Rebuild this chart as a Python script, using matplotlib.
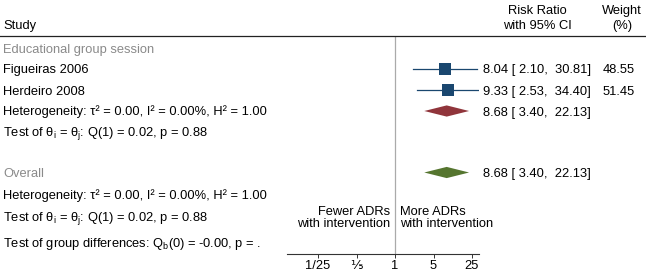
import matplotlib
matplotlib.use("Agg")
import matplotlib.pyplot as plt
import matplotlib.transforms as mtransforms
import numpy as np

plt.rcParams['font.family'] = ['Liberation Sans', 'DejaVu Sans']
plt.rcParams['mathtext.fontset'] = 'custom'
plt.rcParams['mathtext.rm'] = 'Liberation Sans'
plt.rcParams['mathtext.it'] = 'Liberation Sans:italic'

# ---- data ----
studies = ["Figueiras 2006", "Herdeiro 2008"]
rr = [8.04, 9.33]
ci_lo = [2.10, 2.53]
ci_hi = [30.81, 34.40]
weights = [48.55, 51.45]
group_name = "Educational group session"
group_rr, group_lo, group_hi = 8.68, 3.40, 22.13
overall_rr, overall_lo, overall_hi = 8.68, 3.40, 22.13
het_text = "Heterogeneity: τ² = 0.00, I² = 0.00%, H² = 1.00"
test_text = r"Test of $\mathrm{\theta_i}$ = $\mathrm{\theta_j}$: Q(1) = 0.02, p = 0.88"
groupdiff_text = r"Test of group differences: $\mathrm{Q_b}$(0) = -0.00, p = ."
xticks = [1/25, 1/5, 1, 5, 25]
xticklabels = ["1/25", "⅕", "1", "5", "25"]

NAVY = "#1a476f"
MAROON = "#90353b"
GREEN = "#55752f"
GRAY = "#8a8a8a"
FS = 9.3
BASE = 4.6  # px from visual centre to baseline

W, H = 646, 275
fig = plt.figure(figsize=(W / 100, H / 100), dpi=100)

ax_l, ax_r = 287, 479
ax_top, ax_bot = 36, 254
ax = fig.add_axes([ax_l / W, (H - ax_bot) / H, (ax_r - ax_l) / W, (ax_bot - ax_top) / H])
ax.set_xscale('log')
ax.set_xlim(0.01094, 33.5)
ax.set_ylim(ax_bot, ax_top)
for s in ['top', 'right', 'left']:
    ax.spines[s].set_visible(False)
ax.spines['bottom'].set_linewidth(0.8)
ax.spines['bottom'].set_color('#333333')
ax.set_yticks([])
ax.set_xticks(xticks)
ax.set_xticklabels(xticklabels, fontsize=FS)
ax.xaxis.set_minor_locator(matplotlib.ticker.NullLocator())
ax.tick_params(axis='x', length=3, width=0.7, colors='#333333', labelcolor='black', pad=1.5)
ax.patch.set_visible(False)

# reference line at 1
ax.axvline(1, color='#aaaaaa', lw=0.9, zorder=0)

trans = mtransforms.blended_transform_factory(fig.transFigure, ax.transData)
def ftext(xpx, ypx, s, **kw):
    kw.setdefault('fontsize', FS)
    return ax.text(xpx / W, ypx + BASE, s, transform=trans, clip_on=False,
                   va='baseline', **kw)

# header
ftext(3, 24, "Study")
ftext(537, 9, "Risk Ratio", ha='center')
ftext(537, 24, "with 95% CI", ha='center')
ftext(622, 9, "Weight", ha='center')
ftext(622, 24, "(%)", ha='center')
ax.plot([0, 1], [ax_top, ax_top], transform=trans, color='#222222', lw=0.9, clip_on=False)

# group
ftext(3, 48, group_name, color=GRAY)
row_y = [68.5, 90]
for name, y, e, lo, hi, w in zip(studies, row_y, rr, ci_lo, ci_hi, weights):
    ftext(3, y, name)
    ax.plot([lo, hi], [y, y], color=NAVY, lw=0.9, zorder=2)
    ax.plot([e], [y], marker='s', color=NAVY, ms=1.3 * np.sqrt(w), mew=0, zorder=3)
    ftext(483, y, f"{e:.2f} [ {lo:.2f},  {hi:.2f}]")
    ftext(635, y, f"{w:.2f}", ha='right')

def diamond(e, lo, hi, y, color, hh=5.6):
    ax.fill([lo, e, hi, e], [y, y - hh, y, y + hh], color=color, lw=0, zorder=3)

gy = 111
diamond(group_rr, group_lo, group_hi, gy, MAROON)
ftext(483, gy, f"{group_rr:.2f} [ {group_lo:.2f},  {group_hi:.2f}]")
ftext(3, 110, het_text)
ftext(3, 131, test_text)

oy = 172.5
ftext(3, oy, "Overall", color=GRAY)
diamond(overall_rr, overall_lo, overall_hi, oy, GREEN)
ftext(483, oy, f"{overall_rr:.2f} [ {overall_lo:.2f},  {overall_hi:.2f}]")
ftext(3, 194, het_text)
ftext(3, 216, test_text)
ftext(3, 242, groupdiff_text)

ftext(390, 210, "Fewer ADRs", ha='right')
ftext(390, 222, "with intervention", ha='right')
ftext(400, 210, "More ADRs", ha='left')
ftext(400, 222, "with intervention", ha='left')

fig.savefig("out.png", dpi=100)
